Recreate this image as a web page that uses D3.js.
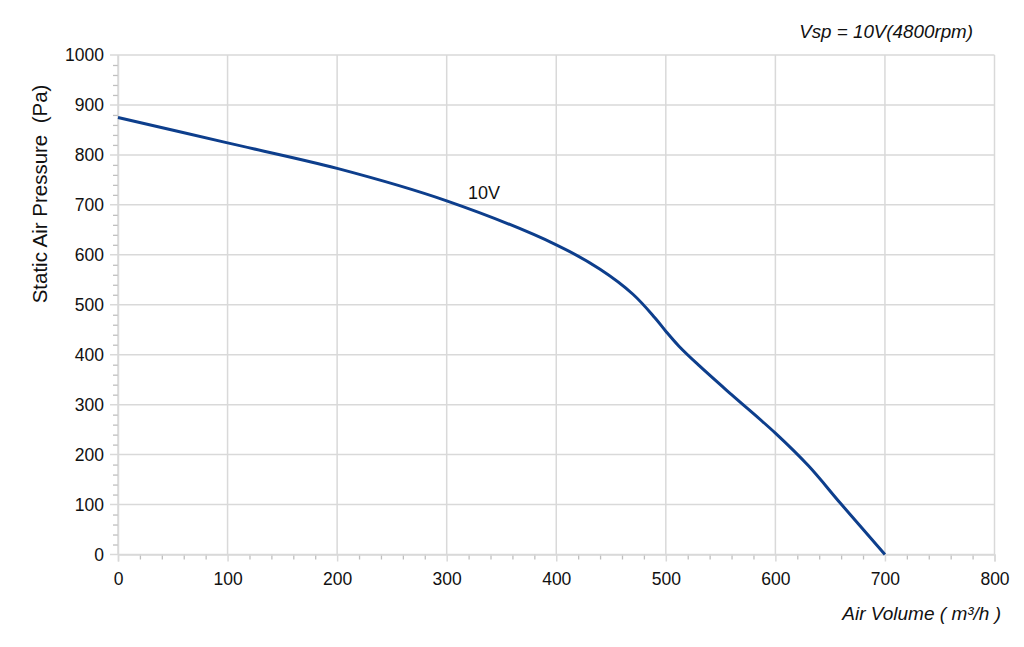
<!DOCTYPE html>
<html>
<head>
<meta charset="utf-8">
<script src="https://cdn.jsdelivr.net/npm/d3@7"></script>
<style>
  html, body { margin: 0; padding: 0; background: #fff; }
  svg { display: block; font-family: "Liberation Sans", Arial, sans-serif; }
</style>
</head>
<body>
<svg id="chart" width="1024" height="647"></svg>
<script>
// fan curve: air volume (m3/h) vs static pressure (Pa)
const airVolume = [0, 100, 200, 300, 400, 440, 470, 490, 500, 512, 530, 560, 600, 630, 660, 700];
const pressure = [875, 824, 773, 708, 620, 571, 521, 474, 447, 417, 379, 320, 243, 178, 101, 0];

const xTicks = [0, 100, 200, 300, 400, 500, 600, 700, 800];
const yTicks = [0, 100, 200, 300, 400, 500, 600, 700, 800, 900, 1000];

const seriesLabel = "10V";
const speedNote = "Vsp = 10V(4800rpm)";
const xTitle = "Air Volume ( m³/h )";
const yTitle = "Static Air Pressure  (Pa)";

(() => {
  const svg = d3.select("#chart");

  const left = 118, top = 55, right = 994.5, bottom = 554.5;
  const GRID = "#d9d9d9";
  const TICK = "#bfbfbf";
  const LINE = "#0d3e8c";
  const INK = "#111";

  const x = d3.scaleLinear().domain([0, 800]).range([left, right]);
  const y = d3.scaleLinear().domain([0, 1000]).range([bottom, top]);

  // grid
  svg.append("g")
    .selectAll("line")
    .data(xTicks)
    .join("line")
    .attr("x1", d => x(d)).attr("x2", d => x(d))
    .attr("y1", top).attr("y2", bottom)
    .attr("stroke", GRID)
    .attr("stroke-width", 1.5);

  svg.append("g")
    .selectAll("line")
    .data(yTicks)
    .join("line")
    .attr("x1", left - 8).attr("x2", right)
    .attr("y1", d => y(d)).attr("y2", d => y(d))
    .attr("stroke", GRID)
    .attr("stroke-width", 1.5);

  // minor ticks every 20
  const minorX = d3.range(0, 801, 20).filter(v => v % 100 !== 0);
  const minorY = d3.range(0, 1001, 20).filter(v => v % 100 !== 0);

  svg.append("g")
    .attr("transform", `translate(0,${bottom})`)
    .call(d3.axisBottom(x).tickValues(minorX).tickSize(5).tickFormat(""))
    .call(g => g.select(".domain").remove())
    .call(g => g.selectAll("line").attr("stroke", TICK).attr("stroke-width", 1.3));

  svg.append("g")
    .attr("transform", `translate(${left},0)`)
    .call(d3.axisLeft(y).tickValues(minorY).tickSize(5).tickFormat(""))
    .call(g => g.select(".domain").remove())
    .call(g => g.selectAll("line").attr("stroke", TICK).attr("stroke-width", 1.3));

  // major axes
  svg.append("g")
    .attr("transform", `translate(0,${bottom})`)
    .call(d3.axisBottom(x).tickValues(xTicks).tickSize(7).tickPadding(11).tickFormat(d3.format("d")))
    .call(g => g.select(".domain").attr("stroke", GRID).attr("stroke-width", 1.5))
    .call(g => g.selectAll("line").attr("stroke", GRID).attr("stroke-width", 1.5))
    .call(g => g.selectAll("text")
      .attr("fill", INK)
      .attr("font-size", "17.5px")
      .attr("font-family", "Liberation Sans, Arial, sans-serif"));

  svg.append("g")
    .attr("transform", `translate(${left},0)`)
    .call(d3.axisLeft(y).tickValues(yTicks).tickSize(0).tickPadding(14).tickFormat(d3.format("d")))
    .call(g => g.select(".domain").attr("stroke", GRID).attr("stroke-width", 1.5))
    .call(g => g.selectAll("text")
      .attr("fill", INK)
      .attr("font-size", "17.5px")
      .attr("font-family", "Liberation Sans, Arial, sans-serif"));

  // curve
  const points = airVolume.map((v, i) => [v, pressure[i]]);
  svg.append("path")
    .datum(points)
    .attr("fill", "none")
    .attr("stroke", LINE)
    .attr("stroke-width", 3)
    .attr("stroke-linejoin", "round")
    .attr("d", d3.line()
      .x(d => x(d[0]))
      .y(d => y(d[1]))
      .curve(d3.curveCatmullRom.alpha(0.5)));

  svg.append("text")
    .attr("x", 468)
    .attr("y", 199)
    .attr("font-size", "18px")
    .attr("fill", INK)
    .text(seriesLabel);

  // titles
  svg.append("text")
    .attr("x", 973)
    .attr("y", 38)
    .attr("text-anchor", "end")
    .attr("font-size", "18.8px")
    .attr("font-style", "italic")
    .attr("fill", INK)
    .text(speedNote);

  svg.append("text")
    .attr("x", 1001)
    .attr("y", 620)
    .attr("text-anchor", "end")
    .attr("font-size", "19px")
    .attr("font-style", "italic")
    .attr("fill", INK)
    .text(xTitle);

  svg.append("text")
    .attr("transform", "translate(47,194) rotate(-90)")
    .attr("text-anchor", "middle")
    .attr("font-size", "20.5px")
    .attr("fill", INK)
    .style("white-space", "pre")
    .text(yTitle);
})();
</script>
</body>
</html>
